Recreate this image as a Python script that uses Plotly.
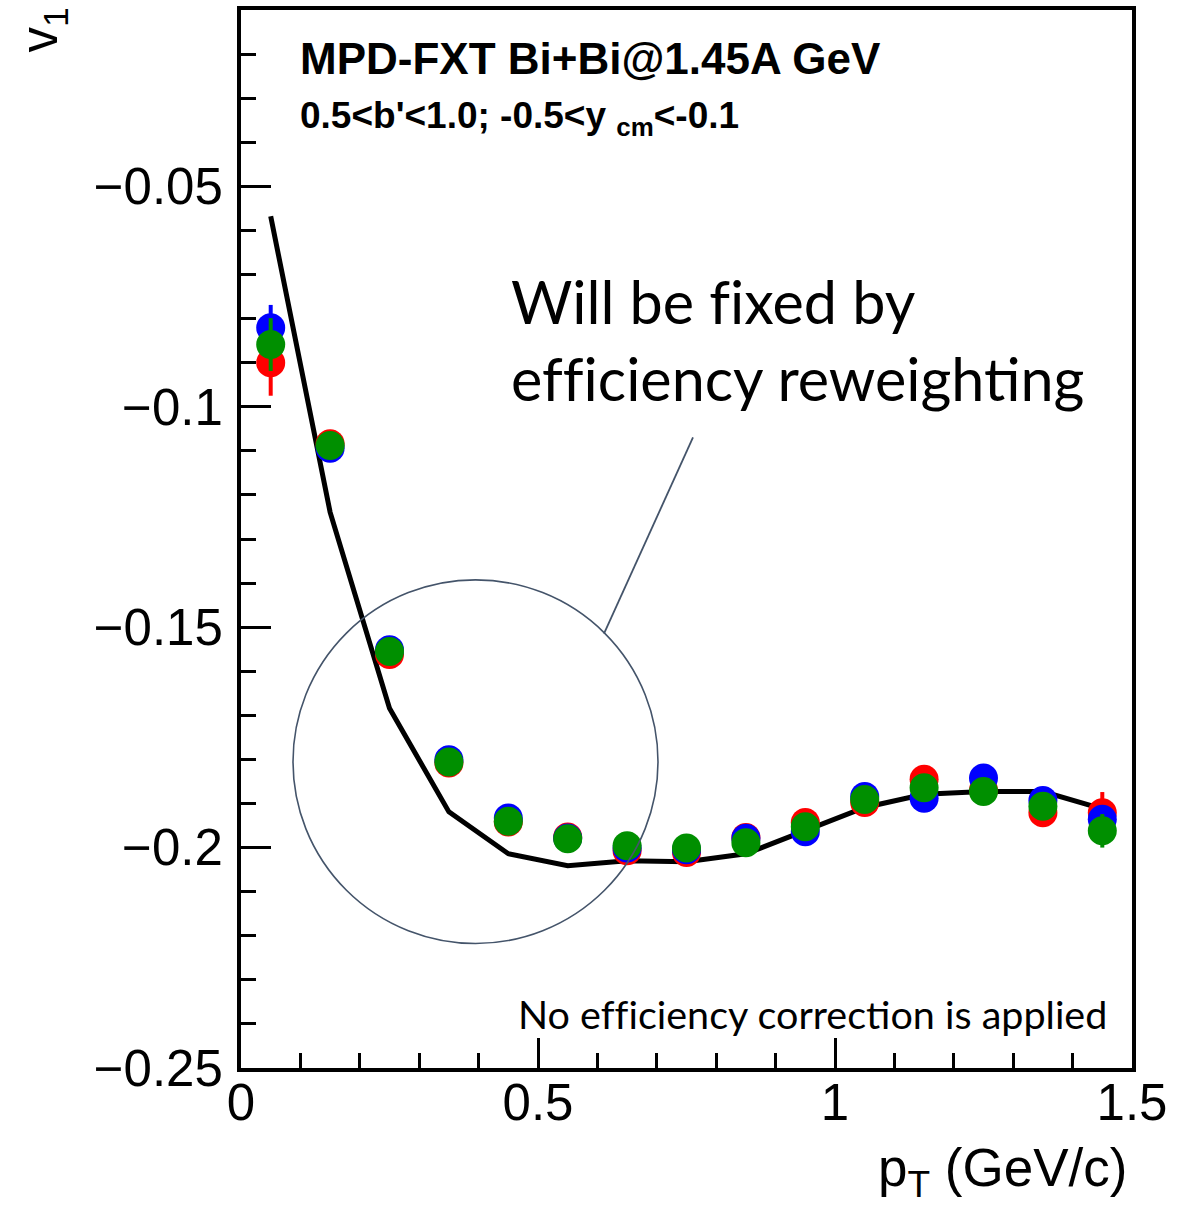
import plotly.graph_objects as go

# Transverse-momentum bins (GeV/c)
pt = [0.05, 0.15, 0.25, 0.35, 0.45, 0.55, 0.65, 0.75, 0.85, 0.95, 1.05, 1.15, 1.25, 1.35, 1.45]

# Directed flow v1 for the three reconstructed samples
v1_red = [-0.0900, -0.1084, -0.1562, -0.1808, -0.1942, -0.1976, -0.2007, -0.2011,
          -0.1977, -0.1943, -0.1898, -0.1845, -0.1870, -0.1921, -0.1921]
err_red = [0.0075, 0.002, 0.002, 0.002, 0.002, 0.002, 0.002, 0.002,
           0.002, 0.002, 0.002, 0.002, 0.002, 0.002, 0.0047]

v1_blue = [-0.0821, -0.1094, -0.1551, -0.1801, -0.1933, -0.1978, -0.2001, -0.2005,
           -0.1979, -0.1964, -0.1884, -0.1888, -0.1842, -0.1893, -0.1936]
err_blue = [0.0052, 0.0018, 0.0018, 0.0018, 0.0018, 0.0018, 0.0018, 0.0018,
            0.0018, 0.0018, 0.0018, 0.0018, 0.0018, 0.0018, 0.003]

v1_green = [-0.0859, -0.1088, -0.1555, -0.1806, -0.1940, -0.1980, -0.1996, -0.2001,
            -0.1989, -0.1953, -0.1891, -0.1864, -0.1873, -0.1906, -0.1962]
err_green = [0.006, 0.0018, 0.0018, 0.0018, 0.0018, 0.0018, 0.0018, 0.0018,
             0.0018, 0.0018, 0.0018, 0.0018, 0.0018, 0.0018, 0.0038]

# Model (generator-level) reference curve
v1_model = [-0.0568, -0.1239, -0.1684, -0.1919, -0.2014, -0.2041, -0.2030, -0.2032,
            -0.2014, -0.1962, -0.1909, -0.1879, -0.1873, -0.1873, -0.1912]

x_range = [0, 1.5]
y_range = [-0.25, -0.01]

W, H = 1200, 1208
ML, MR, MT, MB = 241, 68, 6, 140
PW, PH = W - ML - MR, H - MT - MB


def px(xpix):
    return (xpix - ML) / PW


def py(ypix):
    return (H - MB - ypix) / PH


fig = go.Figure()

fig.add_trace(go.Scatter(
    x=pt, y=v1_model, mode="lines",
    line=dict(color="black", width=5), showlegend=False, hoverinfo="skip"))

for vals, errs, col in [(v1_red, err_red, "#ff0000"),
                        (v1_blue, err_blue, "#0000ff"),
                        (v1_green, err_green, "#008f00")]:
    fig.add_trace(go.Scatter(
        x=pt, y=vals, mode="markers",
        marker=dict(color=col, size=29, line=dict(width=0)),
        error_y=dict(type="data", array=errs, color=col, thickness=4, width=0),
        showlegend=False))

axis_common = dict(
    showline=True, linecolor="black", linewidth=4, mirror=True,
    ticks="inside", tickcolor="black", tickwidth=3, ticklen=30,
    showgrid=False, zeroline=False,
    tickfont=dict(family="Liberation Sans, Arial, sans-serif", size=51, color="black"),
)

fig.update_xaxes(range=x_range, tick0=0, dtick=0.5,
                 minor=dict(ticks="inside", dtick=0.1, ticklen=15, tickwidth=3, tickcolor="black"),
                 ticklabelstandoff=-13, **axis_common)
fig.update_yaxes(range=y_range, tick0=-0.25, dtick=0.05,
                 minor=dict(ticks="inside", dtick=0.01, ticklen=15, tickwidth=3, tickcolor="black"),
                 ticklabelstandoff=4, **axis_common)

shape_col = "#44546a"
# highlight ring around the low-pT region and its pointer
fig.add_shape(type="circle", xref="paper", yref="paper",
              x0=px(293), x1=px(658), y0=py(943), y1=py(578),
              line=dict(color=shape_col, width=1.6))
fig.add_shape(type="line", xref="paper", yref="paper",
              x0=px(604), y0=py(632), x1=px(693), y1=py(435),
              line=dict(color=shape_col, width=1.8))

helv = "Liberation Sans, Arial, sans-serif"
callout = "Lato, Carlito, sans-serif"
ZW = "\u200c"  # keeps "f" and "i" as separate glyphs

annotations = [
    dict(text="<b>MPD-FXT Bi+Bi@1.45A GeV</b>", x=px(298), y=py(55),
         xanchor="left", yanchor="middle", font=dict(family=helv, size=44, color="black")),
    dict(text="<b>0.5<b'<1.0; -0.5<y <sub>cm</sub><-0.1</b>", x=px(298), y=py(114),
         xanchor="left", yanchor="middle", font=dict(family=helv, size=37, color="black")),
    dict(text=f"Will be f{ZW}ixed by", x=px(509), y=py(298),
         xanchor="left", yanchor="middle", font=dict(family=callout, size=59.3, color="black")),
    dict(text=f"ef{ZW}f{ZW}iciency reweighting", x=px(509), y=py(375),
         xanchor="left", yanchor="middle", font=dict(family=callout, size=59.3, color="black")),
    dict(text=f"No ef{ZW}f{ZW}iciency correction is applied", x=px(1109), y=py(1013),
         xanchor="right", yanchor="middle", font=dict(family=callout, size=39.5, color="black")),
    dict(text="p<sub>T</sub> (GeV/c)", x=px(1129), y=py(1172),
         xanchor="right", yanchor="middle", font=dict(family=helv, size=53, color="black")),
    dict(text="v<sub>1</sub>", x=px(44), y=py(2), textangle=-90,
         xanchor="center", yanchor="top", font=dict(family=helv, size=51, color="black")),
]
for a in annotations:
    a.update(xref="paper", yref="paper", showarrow=False)

fig.update_layout(
    width=W, height=H,
    margin=dict(l=ML, r=MR, t=MT, b=MB, pad=0),
    paper_bgcolor="white", plot_bgcolor="white",
    annotations=annotations,
)

fig.write_html("out.html")
